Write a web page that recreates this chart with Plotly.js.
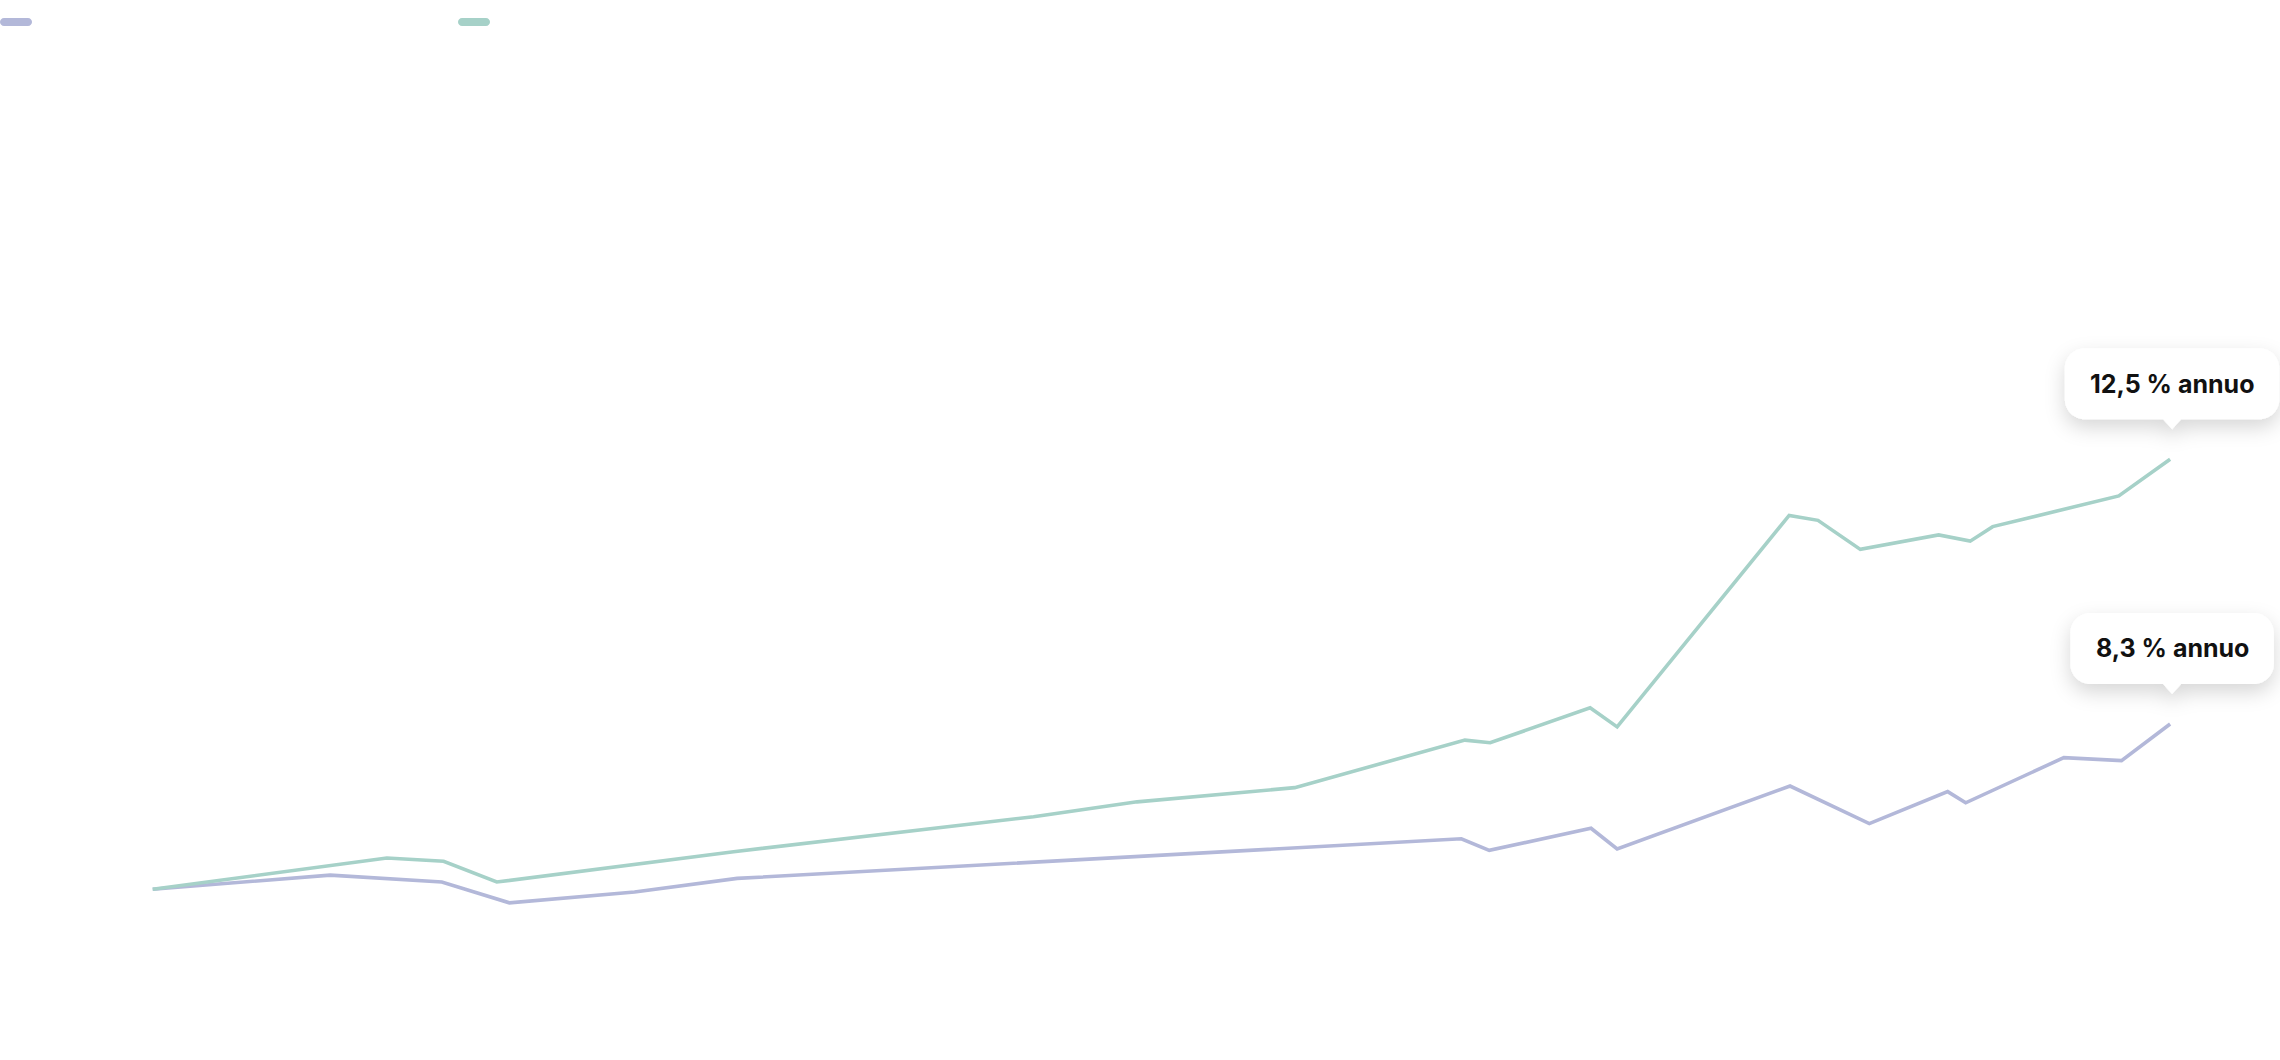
<!DOCTYPE html>
<html>
<head>
<meta charset="utf-8">
<script src="https://cdn.plot.ly/plotly-3.0.1.min.js"></script>
<style>
  html, body { margin: 0; padding: 0; background: #ffffff; overflow: hidden; }
  #chart { width: 2280px; height: 1060px; }
</style>
</head>
<body>
<div id="chart"></div>
<script>
// Years elapsed since the start, and growth index (start = 100)
const moderateYears  = [0, 1.97, 3.21, 3.96, 5.35, 6.49, 14.53, 14.84, 15.97, 16.26, 18.18, 19.06, 19.93, 20.13, 21.22, 21.86, 22.40];
const moderateValues = [100, 143, 122, 59, 92, 133, 253, 218, 285, 222, 413, 299, 396, 362, 499, 490, 601];

const strongYears  = [0, 2.60, 3.23, 3.82, 6.45, 9.78, 10.93, 12.68, 14.57, 14.85, 15.96, 16.26, 18.17, 18.49, 18.96, 19.83, 20.18, 20.43, 21.83, 22.40];
const strongValues = [100, 195, 185, 122, 214, 320, 365, 408, 552, 544, 650, 592, 1233, 1218, 1130, 1174, 1155, 1199, 1292, 1403];

const seriesNames = ['Crescita moderata', 'Crescita elevata'];
const rateLabels  = ['8,3 % annuo', '12,5 % annuo'];

const COLORS = ['#B3B8D9', '#A6D1C8'];
const LABEL_FONT = { family: 'Inter, "Noto Sans", sans-serif', size: 25, weight: 700, color: '#111111' };

const series = [
  { x: moderateYears, y: moderateValues },
  { x: strongYears,   y: strongValues }
];

const traces = series.map((s, i) => ({
  type: 'scatter',
  mode: 'lines',
  name: seriesNames[i],
  x: s.x,
  y: s.y,
  line: { color: COLORS[i], width: 3.6, shape: 'linear' },
  hoverinfo: 'skip',
  showlegend: false
}));

// Text width, used to size each callout box around its label
function textWidth(str) {
  const c = document.createElement('canvas').getContext('2d');
  c.font = `${LABEL_FONT.weight} ${LABEL_FONT.size}px Inter`;
  return c.measureText(str).width;
}

const f = (v) => v.toFixed(2);
const K = 0.5523;

// Rounded rectangle with a small pointer underneath (pixel offsets, y upward)
function calloutPath(width, cx) {
  const gap = 30, tipH = 10, tipW = 18, h = 71, r = 20;
  const bottom = gap + tipH, top = bottom + h;
  const left = cx - width / 2, right = cx + width / 2;
  const k = K * r;
  return [
    `M${f(cx - tipW / 2)},${f(bottom)}`,
    `L${f(cx)},${f(gap)}`,
    `L${f(cx + tipW / 2)},${f(bottom)}`,
    `L${f(right - r)},${f(bottom)}`,
    `C${f(right - r + k)},${f(bottom)} ${f(right)},${f(bottom + r - k)} ${f(right)},${f(bottom + r)}`,
    `L${f(right)},${f(top - r)}`,
    `C${f(right)},${f(top - r + k)} ${f(right - r + k)},${f(top)} ${f(right - r)},${f(top)}`,
    `L${f(left + r)},${f(top)}`,
    `C${f(left + r - k)},${f(top)} ${f(left)},${f(top - r + k)} ${f(left)},${f(top - r)}`,
    `L${f(left)},${f(bottom + r)}`,
    `C${f(left)},${f(bottom + r - k)} ${f(left + r - k)},${f(bottom)} ${f(left + r)},${f(bottom)}`,
    'Z'
  ].join(' ');
}

// Pill-shaped legend swatch starting at pixel x0 (from the top-left corner)
function pillPath(x0) {
  const w = 32, yTop = -18, yBot = -26, r = 4, k = K * r, yMid = (yTop + yBot) / 2;
  return [
    `M${f(x0 + r)},${f(yTop)}`,
    `L${f(x0 + w - r)},${f(yTop)}`,
    `C${f(x0 + w - r + k)},${f(yTop)} ${f(x0 + w)},${f(yMid + k)} ${f(x0 + w)},${f(yMid)}`,
    `C${f(x0 + w)},${f(yMid - k)} ${f(x0 + w - r + k)},${f(yBot)} ${f(x0 + w - r)},${f(yBot)}`,
    `L${f(x0 + r)},${f(yBot)}`,
    `C${f(x0 + r - k)},${f(yBot)} ${f(x0)},${f(yMid - k)} ${f(x0)},${f(yMid)}`,
    `C${f(x0)},${f(yMid + k)} ${f(x0 + r - k)},${f(yTop)} ${f(x0 + r)},${f(yTop)}`,
    'Z'
  ].join(' ');
}

const legendOffsets = [0, 458];
const shapes = [];

legendOffsets.forEach((x0, i) => {
  shapes.push({
    type: 'path', xref: 'paper', yref: 'paper',
    xsizemode: 'pixel', ysizemode: 'pixel', xanchor: 0, yanchor: 1,
    path: pillPath(x0),
    fillcolor: COLORS[i], line: { width: 0 }, layer: 'above'
  });
});

const annotations = [];
series.forEach((s, i) => {
  const lastX = s.x[s.x.length - 1];
  const lastY = s.y[s.y.length - 1];
  const boxW = textWidth(rateLabels[i]) + 50;
  shapes.push({
    type: 'path', xref: 'x', yref: 'y',
    xsizemode: 'pixel', ysizemode: 'pixel', xanchor: lastX, yanchor: lastY,
    path: calloutPath(boxW, 2),
    fillcolor: '#ffffff', line: { width: 0 }, layer: 'above'
  });
  annotations.push({
    x: lastX, y: lastY, xref: 'x', yref: 'y',
    text: rateLabels[i], showarrow: false,
    xanchor: 'center', yanchor: 'middle',
    xshift: 2, yshift: 75.5,
    font: LABEL_FONT
  });
});

const layout = {
  width: 2280,
  height: 1060,
  margin: { l: 0, r: 0, t: 0, b: 0, pad: 0 },
  paper_bgcolor: '#ffffff',
  plot_bgcolor: '#ffffff',
  showlegend: false,
  hovermode: false,
  xaxis: { range: [-1.6956, 23.62], visible: false, fixedrange: true },
  yaxis: { range: [-417.3, 2794.8], visible: false, fixedrange: true },
  shapes: shapes,
  annotations: annotations
};

const gd = document.getElementById('chart');
Plotly.newPlot(gd, traces, layout, { displayModeBar: false, staticPlot: true }).then(() => {
  // Soft drop shadow under the callout boxes
  const ns = 'http://www.w3.org/2000/svg';
  const svg = gd.querySelector('svg.main-svg');
  let defs = svg.querySelector('defs');
  if (!defs) { defs = document.createElementNS(ns, 'defs'); svg.insertBefore(defs, svg.firstChild); }
  const filter = document.createElementNS(ns, 'filter');
  filter.setAttribute('id', 'callout-shadow');
  filter.setAttribute('x', '-30%');
  filter.setAttribute('y', '-40%');
  filter.setAttribute('width', '160%');
  filter.setAttribute('height', '200%');
  const drop = document.createElementNS(ns, 'feDropShadow');
  drop.setAttribute('dx', '0');
  drop.setAttribute('dy', '8');
  drop.setAttribute('stdDeviation', '10');
  drop.setAttribute('flood-color', '#000000');
  drop.setAttribute('flood-opacity', '0.16');
  filter.appendChild(drop);
  defs.appendChild(filter);
  gd.querySelectorAll('.shapelayer path').forEach((p) => {
    const idx = Number(p.getAttribute('data-index'));
    if (idx >= legendOffsets.length) p.setAttribute('filter', 'url(#callout-shadow)');
  });
});
</script>
</body>
</html>
